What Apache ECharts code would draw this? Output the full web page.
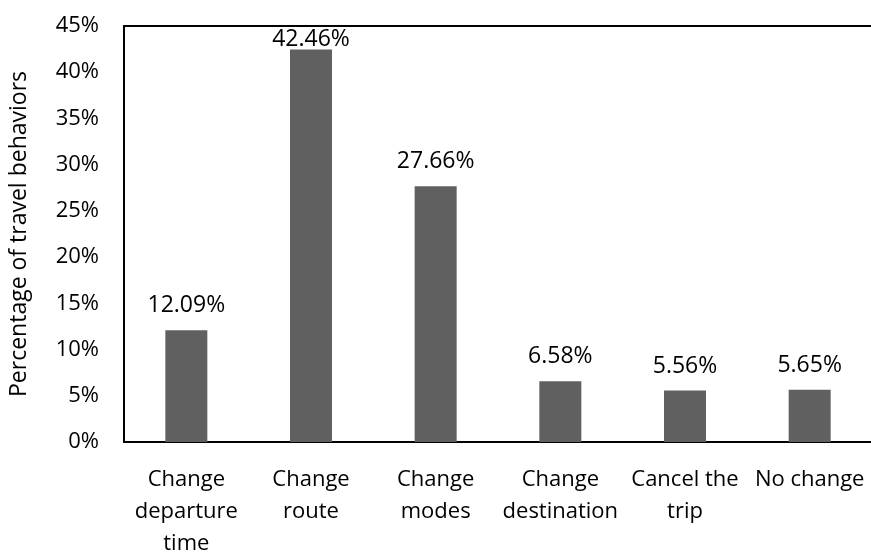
<!DOCTYPE html>
<html><head><meta charset="utf-8">
<script src="https://cdn.jsdelivr.net/npm/echarts@6/dist/echarts.min.js"></script>
<style>html,body{margin:0;padding:0;background:#fff}#c{width:871px;height:552px}</style>
</head><body><div id="c"></div>
<script>
const categories = ['Change\ndeparture\ntime', 'Change\nroute', 'Change\nmodes', 'Change\ndestination', 'Cancel the\ntrip', 'No change'];
const values = [12.09, 42.46, 27.66, 6.58, 5.56, 5.65];
const labelDistances = [13, -1, 13, 13, 13, 13];
const yTicks = {min: 0, max: 45, interval: 5};
const FONT = 'Open Sans';
const chart = echarts.init(document.getElementById('c'), null, {renderer: 'canvas'});
chart.setOption({
  animation: false,
  grid: {left: 124, right: -1, top: 26, bottom: 110, containLabel: false, outerBoundsMode: 'none'},
  xAxis: [{
    type: 'category', data: categories,
    axisLine: {show: true, lineStyle: {color: '#000', width: 2}},
    axisTick: {show: false},
    axisLabel: {interval: 0, color: '#000', fontFamily: FONT, fontSize: 22, lineHeight: 32, margin: 22}
  }, {
    type: 'category', data: categories, position: 'top',
    axisLine: {show: true, onZero: false, lineStyle: {color: '#000', width: 2}},
    axisTick: {show: false}, axisLabel: {show: false}
  }],
  yAxis: {
    type: 'value', min: yTicks.min, max: yTicks.max, interval: yTicks.interval,
    name: 'Percentage of travel behaviors', nameLocation: 'middle', nameGap: 93,
    nameTextStyle: {color: '#000', fontFamily: FONT, fontSize: 23},
    axisLine: {show: true, lineStyle: {color: '#000', width: 2}},
    axisTick: {show: false},
    splitLine: {show: false},
    axisLabel: {color: '#000', fontFamily: FONT, fontSize: 22, margin: 25, formatter: v => v + '%'}
  },
  series: [{
    type: 'bar', xAxisIndex: 0, barWidth: 42,
    itemStyle: {color: '#606060'},
    data: values.map((v, i) => ({value: v, label: {distance: labelDistances[i]}})),
    label: {show: true, position: 'top', color: '#000', fontFamily: FONT, fontSize: 23, formatter: p => p.value.toFixed(2) + '%'}
  }]
});
</script></body></html>
